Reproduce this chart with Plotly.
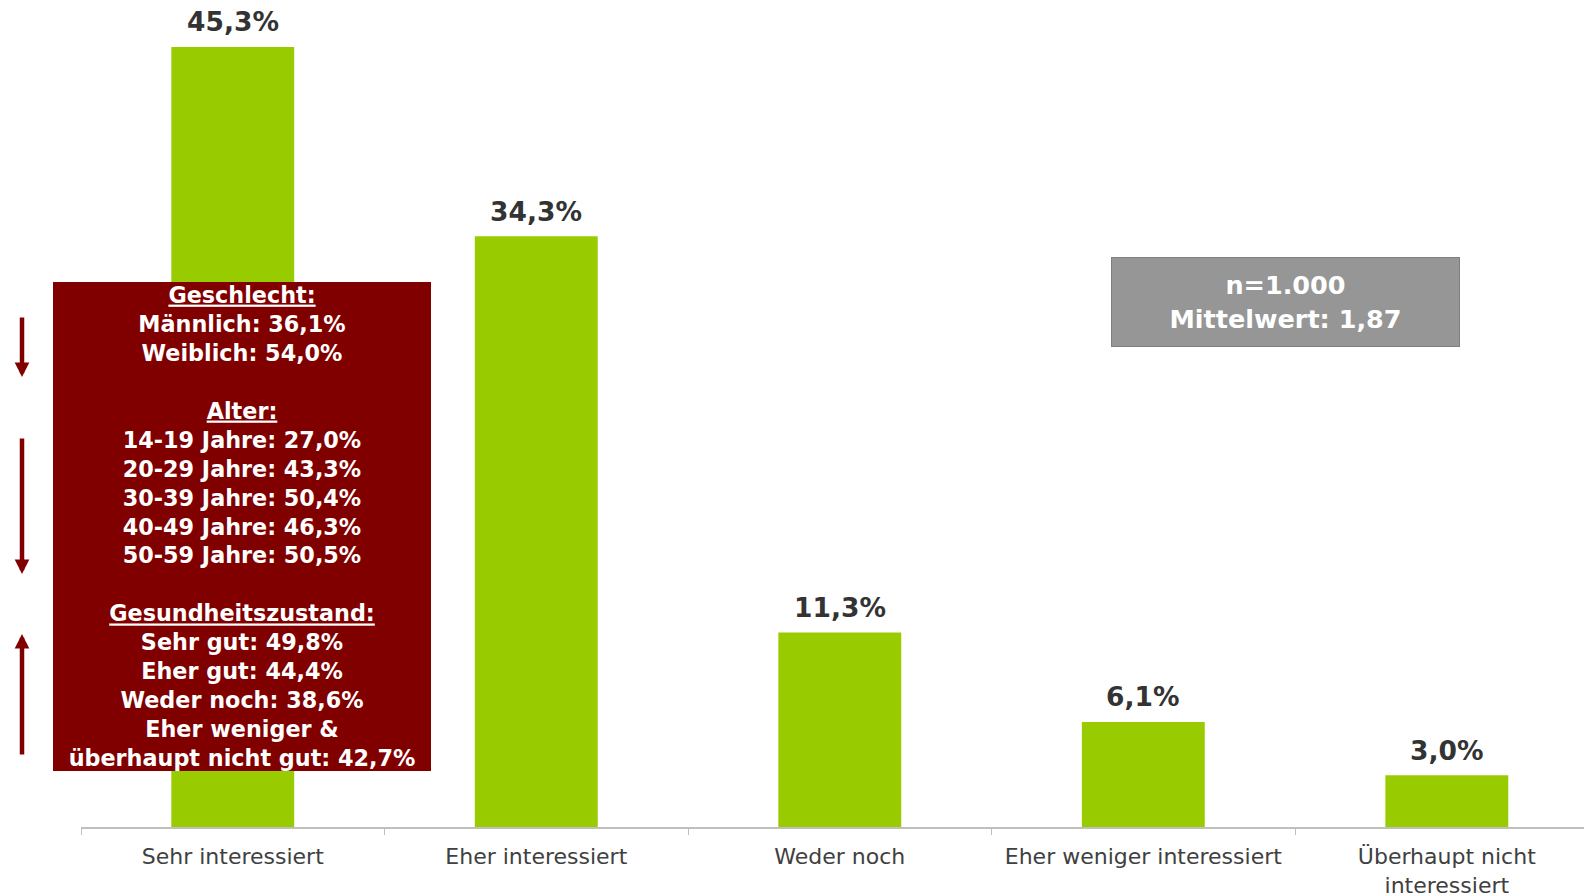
import plotly.graph_objects as go

categories = ["Sehr interessiert", "Eher interessiert", "Weder noch",
              "Eher weniger interessiert", "Überhaupt nicht<br>interessiert"]
values = [45.3, 34.3, 11.3, 6.1, 3.0]

info_lines = [
    "<u>Geschlecht:</u>", "Männlich: 36,1%", "Weiblich: 54,0%", "",
    "<u>Alter:</u>", "14-19 Jahre: 27,0%", "20-29 Jahre: 43,3%", "30-39 Jahre: 50,4%",
    "40-49 Jahre: 46,3%", "50-59 Jahre: 50,5%", "",
    "<u>Gesundheitszustand:</u>", "Sehr gut: 49,8%", "Eher gut: 44,4%", "Weder noch: 38,6%",
    "Eher weniger &", "überhaupt nicht gut: 42,7%",
]
stats_lines = ["n=1.000", "Mittelwert: 1,87"]

FONT = "DejaVu Sans"
W, H = 1584, 895
ML, MB = 81, 68
PW, PH = W - ML, H - MB

def px(x):
    return (x - ML) / PW

def py(y):
    return (H - MB - y) / PH

fig = go.Figure()
fig.add_trace(go.Bar(x=categories, y=values, marker_color="#99CC00",
                     marker_line_width=0, hoverinfo="skip"))

annotations = []
for c, v in zip(categories, values):
    annotations.append(dict(x=c, y=v, xref="x", yref="y", text=f"{v:.1f}%".replace(".", ","),
                            showarrow=False, yanchor="middle", yshift=25,
                            font=dict(family=FONT, size=26.5, color="#333333", weight="bold")))

annotations.append(dict(x=px(241.7), y=py(526.5), xref="paper", yref="paper",
                        text="<br>".join(info_lines), showarrow=False,
                        xanchor="center", yanchor="middle", align="center", valign="middle",
                        width=378, height=489, bgcolor="#800000", borderpad=0, borderwidth=0,
                        font=dict(family=FONT, size=22.3, color="white", weight="bold")))

annotations.append(dict(x=px(1285.5), y=py(301.5), xref="paper", yref="paper",
                        text="<br>".join(stats_lines), showarrow=False,
                        xanchor="center", yanchor="middle", align="center", valign="middle",
                        width=347, height=88, bgcolor="#969696", bordercolor="#7f7f7f",
                        borderpad=0, borderwidth=1,
                        font=dict(family=FONT, size=25.5, color="white", weight="bold")))

for tip, ay in [(377, -61), (574, -137), (634, 122)]:
    annotations.append(dict(x=px(22), y=py(tip), xref="paper", yref="paper", text="",
                            showarrow=True, ax=0, ay=ay, arrowhead=2, arrowsize=0.65,
                            arrowwidth=4.5, arrowcolor="#800000", standoff=0))

fig.update_layout(
    width=W, height=H,
    margin=dict(l=ML, r=0, t=0, b=MB, autoexpand=False),
    paper_bgcolor="white", plot_bgcolor="white",
    bargap=0.595, showlegend=False,
    annotations=annotations,
    xaxis=dict(range=[-0.5, 4.452], showline=True, linecolor="#bfbfbf", linewidth=1.5,
               ticks="outside", tickson="boundaries", ticklen=6, tickcolor="#bfbfbf",
               tickfont=dict(family=FONT, size=22, color="#404040"), showgrid=False,
               ticklabelstandoff=9, automargin=False),
    yaxis=dict(range=[0, (H - MB) / 17.22], visible=False, showgrid=False, zeroline=False,
               automargin=False),
)

fig.write_html("out.html", config={"displayModeBar": False},
               post_script="document.body.style.margin='0';document.body.style.overflow='hidden';")
